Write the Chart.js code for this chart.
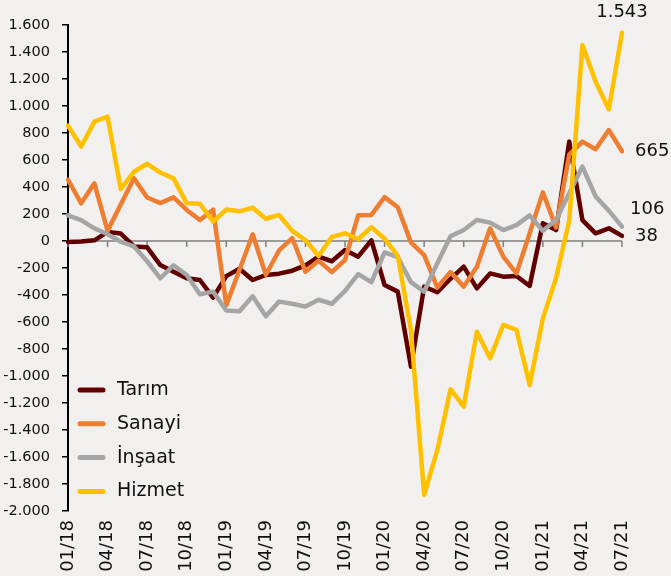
<!DOCTYPE html>
<html><head><meta charset="utf-8">
<script src="https://cdn.jsdelivr.net/npm/chart.js@4.4.0/dist/chart.umd.min.js"></script>
<style>html,body{margin:0;padding:0;background:#F2F0EE;} canvas{display:block;}</style>
</head><body>
<canvas id="c" width="671" height="576"></canvas>
<script>
const months = ['01/18','02/18','03/18','04/18','05/18','06/18','07/18','08/18','09/18','10/18','11/18','12/18',
  '01/19','02/19','03/19','04/19','05/19','06/19','07/19','08/19','09/19','10/19','11/19','12/19',
  '01/20','02/20','03/20','04/20','05/20','06/20','07/20','08/20','09/20','10/20','11/20','12/20',
  '01/21','02/21','03/21','04/21','05/21','06/21','07/21'];
const tarim  = [-7,-3,5,67,55,-40,-47,-178,-227,-276,-289,-420,-260,-205,-289,-252,-242,-220,-180,-116,-150,-67,-116,5,-326,-375,-931,-338,-380,-280,-190,-351,-240,-264,-259,-333,131,81,736,155,57,94,38];
const sanayi = [452,279,427,75,270,464,322,281,323,230,155,232,-475,-215,50,-250,-70,22,-227,-147,-230,-141,190,193,325,250,-10,-104,-345,-230,-338,-190,94,-116,-240,57,360,100,640,736,680,822,665];
const insaat = [190,155,94,50,-5,-40,-150,-276,-180,-252,-395,-375,-515,-520,-410,-558,-449,-465,-486,-435,-465,-370,-245,-305,-85,-120,-305,-375,-165,35,81,155,136,81,118,190,75,155,353,551,330,225,106];
const hizmet = [855,700,884,921,385,513,572,507,464,280,276,143,233,220,246,165,193,75,7,-111,30,57,13,103,17,-110,-659,-1881,-1548,-1098,-1227,-672,-869,-622,-659,-1067,-573,-275,150,1452,1180,975,1543];
const seriesNames  = ['Tarım','Sanayi','İnşaat','Hizmet'];
const seriesColors = ['#600000','#ED7D31','#A5A5A5','#FFC000'];
const yMin = -2000, yMax = 1600, yStep = 200;

function trNum(v){
  const s = Math.abs(Math.round(v)).toString().replace(/\B(?=(\d{3})+(?!\d))/g,'.');
  return (v < 0 ? '-' : '') + s;
}

const zeroAxis = {
  id:'zeroAxis',
  beforeDatasetsDraw(chart){
    const {ctx, chartArea, scales:{x,y}} = chart;
    const y0 = y.getPixelForValue(0);
    ctx.save();
    ctx.strokeStyle = '#7F7F7F';
    ctx.lineWidth = 1.5;
    ctx.beginPath();
    ctx.moveTo(chartArea.left, y0); ctx.lineTo(chartArea.right, y0);
    months.forEach((m,i)=>{
      if (i % 3 === 0){
        const px = x.getPixelForValue(i);
        ctx.moveTo(px, y0); ctx.lineTo(px, y0 + 6);
      }
    });
    ctx.stroke();
    ctx.restore();
  }
};

const endLabels = {
  id:'endLabels',
  afterDatasetsDraw(chart){
    const {ctx} = chart;
    const cfg = {
      'Hizmet': {dx:0, dy:-20, align:'center'},
      'Sanayi': {dx:13, dy:0, align:'left'},
      'İnşaat': {dx:8, dy:-17, align:'left'},
      'Tarım':  {dx:13, dy:0, align:'left'}
    };
    ctx.save();
    ctx.font = '18px "DejaVu Sans"';
    ctx.fillStyle = '#111';
    ctx.textBaseline = 'middle';
    chart.data.datasets.forEach((ds, di)=>{
      const meta = chart.getDatasetMeta(di);
      const last = meta.data[meta.data.length - 1];
      const c = cfg[ds.label];
      ctx.textAlign = c.align;
      ctx.fillText(trNum(ds.data[ds.data.length - 1]), last.x + c.dx, last.y + c.dy);
    });
    ctx.restore();
  }
};

const customLegend = {
  id:'customLegend',
  afterDraw(chart){
    const {ctx, chartArea} = chart;
    const x0 = chartArea.left + 12, y0 = 390, gap = 33.8;
    ctx.save();
    ctx.font = '19px "DejaVu Sans"';
    ctx.textBaseline = 'middle';
    ctx.textAlign = 'left';
    seriesNames.forEach((n,i)=>{
      const yy = y0 + i * gap;
      ctx.strokeStyle = seriesColors[i];
      ctx.lineWidth = 5;
      ctx.lineCap = 'round';
      ctx.beginPath(); ctx.moveTo(x0, yy); ctx.lineTo(x0 + 23, yy); ctx.stroke();
      ctx.fillStyle = '#111';
      ctx.fillText(n, x0 + 37, yy);
    });
    ctx.restore();
  }
};

const seriesData = [tarim, sanayi, insaat, hizmet];
new Chart(document.getElementById('c'), {
  type:'line',
  data:{
    labels: months,
    datasets: seriesNames.map((n,i)=>({
      label:n, data:seriesData[i], borderColor:seriesColors[i], backgroundColor:seriesColors[i],
      borderWidth:4.5, pointRadius:0, tension:0, fill:false, borderJoinStyle:'round', borderCapStyle:'round',
      order: 4 - i
    }))
  },
  options:{
    responsive:false, animation:false,
    layout:{padding:{top:25, right:49, bottom:0, left:0}},
    plugins:{legend:{display:false}, tooltip:{enabled:false}},
    scales:{
      x:{
        type:'category', offset:false,
        grid:{display:false, drawTicks:false},
        border:{display:false},
        ticks:{autoSkip:false, maxRotation:90, minRotation:90, padding:9,
          font:{family:'DejaVu Sans', size:18}, color:'#111',
          callback:(v,i)=> (i % 3 === 0 ? months[i] : '')},
        afterFit:(s)=>{ s.height = 65; }
      },
      y:{
        min:yMin, max:yMax,
        ticks:{stepSize:yStep, autoSkip:false, padding:12,
          font:{family:'DejaVu Sans', size:14.5}, color:'#111',
          callback:(v)=>trNum(v)},
        grid:{drawOnChartArea:false, drawTicks:true, tickLength:6, color:'#000', lineWidth:1.5},
        border:{display:true, color:'#000', width:2},
        afterFit:(s)=>{ s.width = 68; }
      }
    }
  },
  plugins:[zeroAxis, endLabels, customLegend]
});
</script>
</body></html>
